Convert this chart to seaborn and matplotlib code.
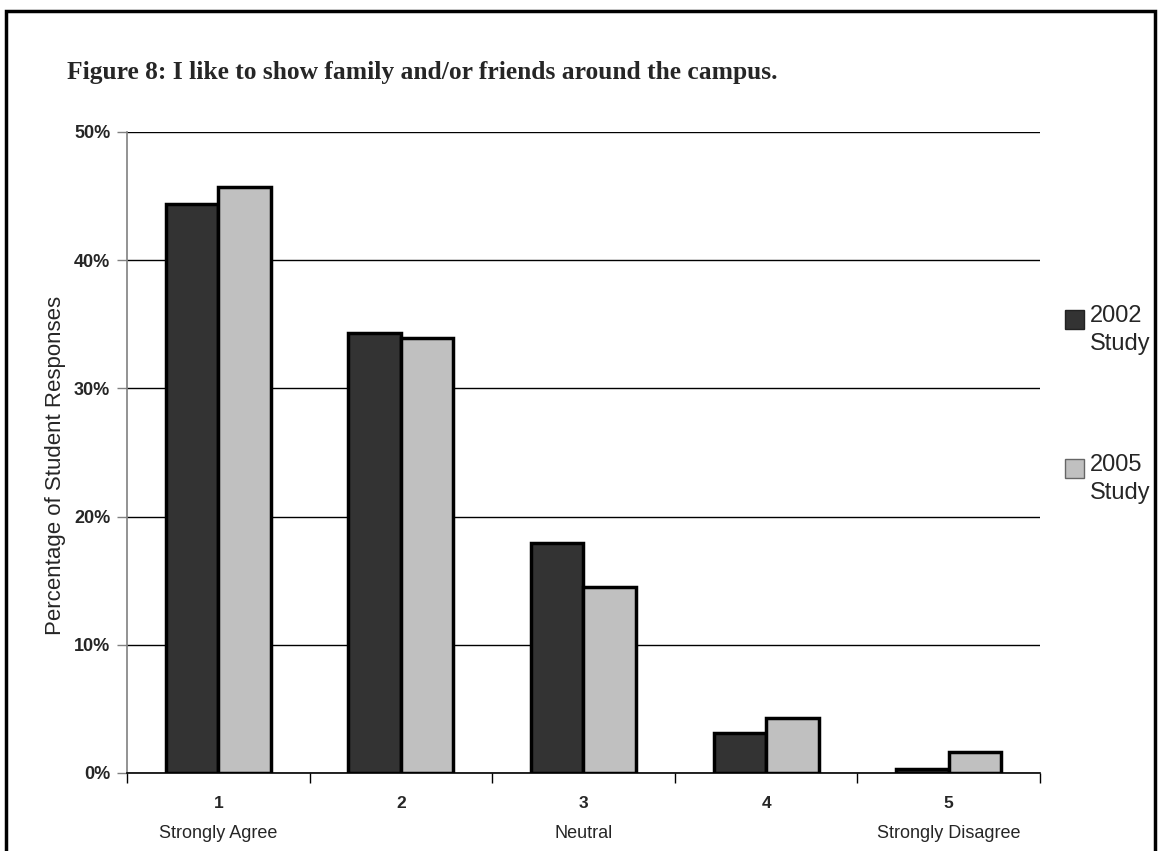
import numpy as np
import pandas as pd
import matplotlib
matplotlib.use("Agg")
import matplotlib.pyplot as plt
import matplotlib.patches as patches
from matplotlib.legend_handler import HandlerPatch
from matplotlib.ticker import FuncFormatter, FixedLocator
import seaborn as sns

# data
ratings = ["1", "2", "3", "4", "5"]
anchors = ["Strongly Agree", "", "Neutral", "", "Strongly Disagree"]
study_2002 = [44.4, 34.3, 17.9, 3.1, 0.3]
study_2005 = [45.7, 33.9, 14.5, 4.3, 1.6]
studies = ["2002\nStudy", "2005\nStudy"]
colors = ["#333333", "#c0c0c0"]

df = pd.DataFrame({
    "rating": ratings * 2,
    "pct": study_2002 + study_2005,
    "study": [studies[0]] * 5 + [studies[1]] * 5,
})

sns.set_style("white")
plt.rcParams["font.family"] = ["Liberation Sans", "DejaVu Sans"]


# legend key sits next to the first line of a two-line label (Excel style)
class TopSquare(HandlerPatch):
    def create_artists(self, legend, orig_handle, xdescent, ydescent, width, height, fontsize, trans):
        s = 0.82 * fontsize
        p = patches.Rectangle((-xdescent, -ydescent + height - s), s, s,
                              facecolor=orig_handle.get_facecolor(),
                              edgecolor=orig_handle.get_edgecolor(), linewidth=1,
                              transform=trans)
        return [p]


fig = plt.figure(figsize=(11.62, 8.51), dpi=100)
ax = fig.add_axes([0.1093, 0.0917, 0.7857, 0.7532])

sns.barplot(data=df, x="rating", y="pct", hue="study", palette=colors,
            width=0.575, edgecolor="black", linewidth=2.5, ax=ax, legend=False)

ax.set_ylim(0, 50)
ax.set_xlim(-0.5, 4.5)
ax.yaxis.set_major_locator(FixedLocator([0, 10, 20, 30, 40, 50]))
ax.yaxis.set_major_formatter(FuncFormatter(lambda v, p: f"{int(v)}%"))
ax.grid(axis="y", color="black", linewidth=1)
ax.set_axisbelow(True)
for s in ["top", "right"]:
    ax.spines[s].set_visible(False)
ax.spines["left"].set_color("#808080")
ax.spines["left"].set_linewidth(1.2)
ax.spines["bottom"].set_color("black")
ax.spines["bottom"].set_linewidth(1.2)
ax.tick_params(axis="y", left=True, length=7, width=1, color="#808080",
               labelsize=13, pad=5)
for t in ax.get_yticklabels():
    t.set_fontweight("bold")

# category labels at centres, tick marks at boundaries
ax.set_xticks(range(5))
ax.set_xticklabels(ratings, fontsize=12.5, fontweight="bold")
ax.tick_params(axis="x", bottom=False, pad=13)
ax.set_xticks(np.arange(-0.5, 5, 1), minor=True)
ax.tick_params(axis="x", which="minor", bottom=True, length=7, width=1, color="black")
for i, a in enumerate(anchors):
    ax.text(i, -0.094, a, transform=ax.get_xaxis_transform(), ha="center",
            va="center", fontsize=13)

ax.set_xlabel("")
ax.set_ylabel("Percentage of Student Responses", fontsize=16)
ax.yaxis.set_label_coords(-0.067, 0.48)

handles = [patches.Patch(facecolor=colors[0], edgecolor="#222222"),
           patches.Patch(facecolor=colors[1], edgecolor="#666666")]
leg = fig.legend(handles, studies, loc="upper left", bbox_to_anchor=(0.898, 0.667),
                 frameon=False, fontsize=17, handlelength=0.85, handleheight=2.4,
                 handletextpad=0.2, labelspacing=4.2,
                 handler_map={patches.Patch: TopSquare()})
for t in leg.get_texts():
    t.set_linespacing(1.35)

fig.text(0.058, 0.915, "Figure 8: I like to show family and/or friends around the campus.",
         fontsize=18.4, fontweight="bold", family="Liberation Serif", va="center")

# outer frame
fig.patches.append(patches.Rectangle((0.005, -0.05), 0.989, 1.037, transform=fig.transFigure,
                                     fill=False, edgecolor="black", linewidth=2.5))

fig.savefig("out.png", dpi=100)
